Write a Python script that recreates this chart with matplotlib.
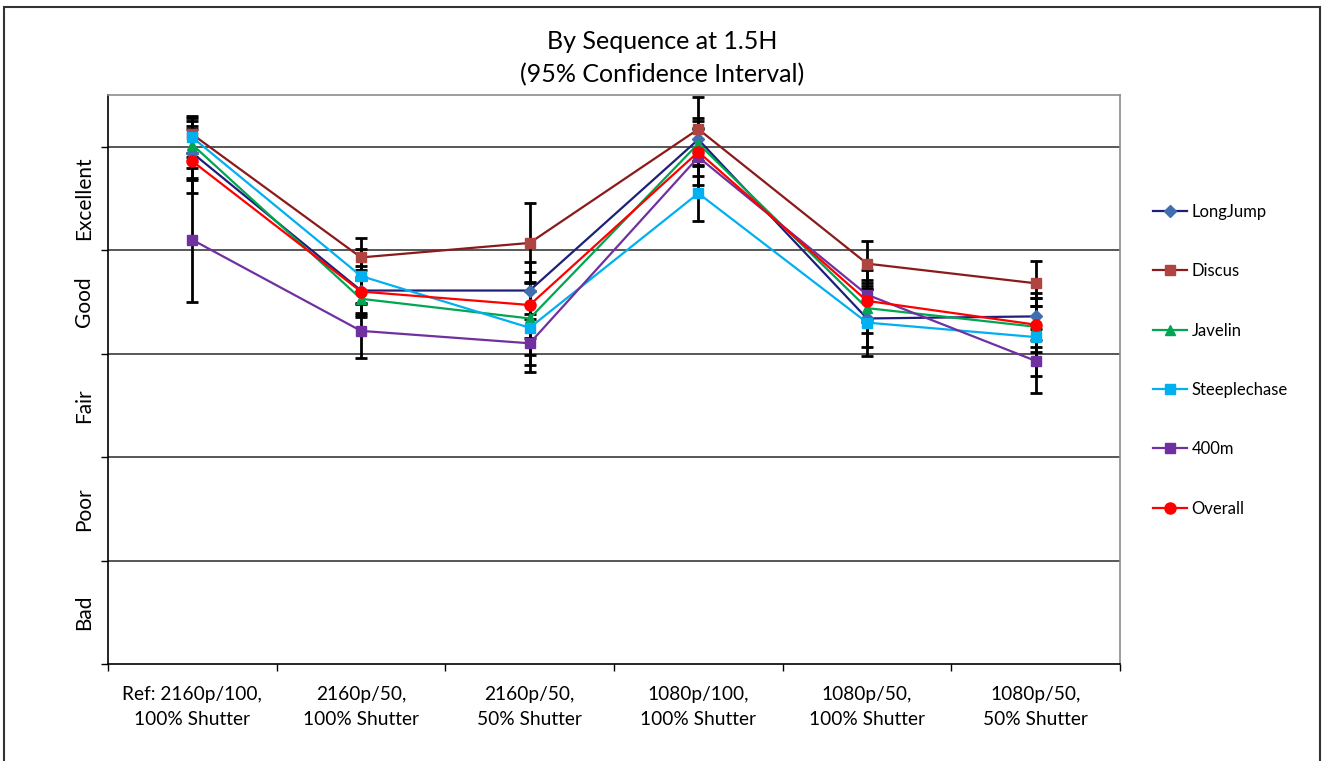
import matplotlib
matplotlib.use("Agg")
import matplotlib.pyplot as plt
from matplotlib.patches import Rectangle
import numpy as np

plt.rcParams["font.family"] = ["Lato", "DejaVu Sans"]

CATEGORIES = ["Ref: 2160p/100,\n100% Shutter", "2160p/50,\n100% Shutter",
              "2160p/50,\n50% Shutter", "1080p/100,\n100% Shutter",
              "1080p/50,\n100% Shutter", "1080p/50,\n50% Shutter"]
BANDS = ["Bad", "Poor", "Fair", "Good", "Excellent"]

SERIES = ["LongJump", "Discus", "Javelin", "Steeplechase", "400m", "Overall"]
longjump     = [4.94, 3.61, 3.61, 5.07, 3.34, 3.36]
discus       = [5.12, 3.93, 4.07, 5.17, 3.87, 3.68]
javelin      = [5.02, 3.53, 3.34, 5.03, 3.44, 3.26]
steeplechase = [5.09, 3.75, 3.25, 4.55, 3.30, 3.16]
m400         = [4.10, 3.22, 3.10, 4.90, 3.57, 2.93]
overall      = [4.86, 3.60, 3.47, 4.95, 3.51, 3.28]

# 95% CI half-widths
err_longjump     = [0.26, 0.24, 0.28, 0.21, 0.28, 0.23]
err_discus       = [0.18, 0.19, 0.39, 0.31, 0.22, 0.22]
err_javelin      = [0.23, 0.18, 0.35, 0.22, 0.24, 0.20]
err_steeplechase = [0.19, 0.26, 0.36, 0.27, 0.32, 0.38]
err_m400         = [0.60, 0.26, 0.28, 0.27, 0.24, 0.31]
err_overall      = [0.31, 0.21, 0.32, 0.23, 0.20, 0.26]

VALUES = [longjump, discus, javelin, steeplechase, m400, overall]
ERRORS = [err_longjump, err_discus, err_javelin, err_steeplechase, err_m400, err_overall]
LINE_COLORS = ["#1f1f7a", "#8b1a1a", "#00a651", "#00b0f0", "#7030a0", "#ff0000"]
MARKER_COLORS = ["#3f6fb0", "#b04440", "#00a651", "#00b0f0", "#7030a0", "#ff0000"]
MARKERS = ["D", "s", "^", "s", "s", "o"]
MSIZES = [6, 7.5, 7.5, 7.5, 7.5, 8]

fig = plt.figure(figsize=(13.25, 7.61), dpi=100)
ax = fig.add_axes([108 / 1325, 97 / 761, 1012 / 1325, 569 / 761])

x = np.arange(len(CATEGORIES))

for vals, errs in zip(VALUES, ERRORS):
    ax.errorbar(x, vals, yerr=errs, fmt="none", ecolor="black",
                elinewidth=2, capsize=4.5, capthick=2, zorder=2)

for name, vals, lc, mc, mk, ms in zip(SERIES, VALUES, LINE_COLORS,
                                       MARKER_COLORS, MARKERS, MSIZES):
    ax.plot(x, vals, color=lc, lw=1.6, marker=mk, markersize=ms,
            markerfacecolor=mc, markeredgecolor=mc, label=name, zorder=3)

ax.set_xlim(-0.5, len(CATEGORIES) - 0.5)
ax.set_ylim(0, 5.5)

# band boundaries as gridlines
for yv in range(1, 6):
    ax.axhline(yv, color="#2a2a2a", lw=1.1, zorder=1)

ax.set_yticks(range(0, 6))
ax.set_yticklabels([])
ax.set_yticks(np.arange(0.5, 5), minor=True)
ax.set_yticklabels(BANDS, minor=True, rotation=90, va="center", fontsize=15)
ax.tick_params(axis="y", which="major", direction="out", length=5, width=1)
ax.tick_params(axis="y", which="minor", length=0, pad=10)

ax.set_xticks(np.arange(-0.5, len(CATEGORIES)))
ax.set_xticklabels([])
ax.set_xticks(x, minor=True)
ax.set_xticklabels(CATEGORIES, minor=True, fontsize=13.8, linespacing=1.55)
ax.tick_params(axis="x", which="major", direction="out", length=5, width=1)
ax.tick_params(axis="x", which="minor", length=0, pad=16)

ax.spines["left"].set_color("black")
ax.spines["bottom"].set_color("black")
ax.spines["top"].set_color("#8c8c8c")
ax.spines["right"].set_color("#8c8c8c")
for s in ax.spines.values():
    s.set_linewidth(1.2)

ax.legend(loc="upper left", bbox_to_anchor=(1.018, 0.835), frameon=False,
          fontsize=12, labelspacing=2.6, handlelength=2.0, handletextpad=0.3)

fig.text(0.5, 0.945, "By Sequence at 1.5H", ha="center", va="center", fontsize=18)
fig.text(0.5, 0.902, "(95% Confidence Interval)", ha="center", va="center", fontsize=18)

# outer chart frame
fig.patches.append(Rectangle((4 / 1325, -0.05), 1316 / 1325, 0.05 + 754 / 761,
                             transform=fig.transFigure, fill=False,
                             edgecolor="#333333", lw=1.5))

fig.savefig("out.png", dpi=100)
